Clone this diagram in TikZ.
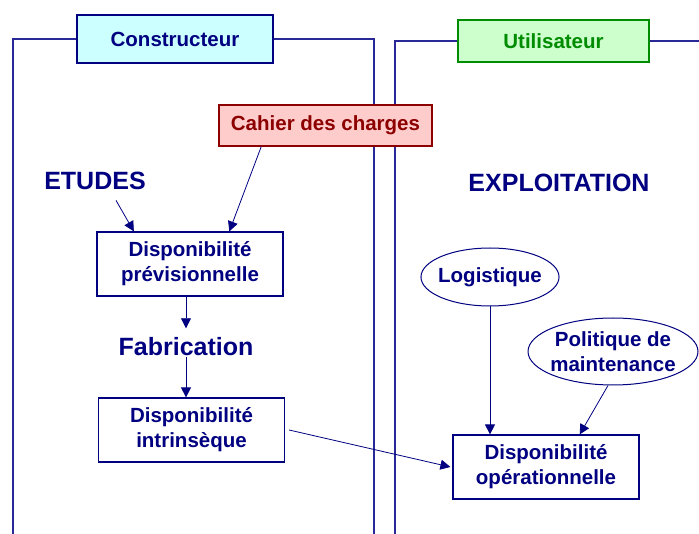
\documentclass[tikz,border=0pt]{standalone}
\usepackage{fontspec}
\setmainfont{Liberation Sans}
\usetikzlibrary{arrows.meta,shapes,positioning,calc}

\definecolor{marine}{RGB}{0,0,128}
\definecolor{cadrebleu}{RGB}{40,40,150}
\definecolor{cyanclair}{RGB}{204,255,255}
\definecolor{vertclair}{RGB}{204,255,204}
\definecolor{vertfonce}{RGB}{0,140,0}
\definecolor{roseclair}{RGB}{255,204,204}
\definecolor{rougefonce}{RGB}{140,0,0}

\begin{document}
\begin{tikzpicture}[x=1pt,y=-1pt,
		txt/.style={font=\bfseries\fontsize{20.5}{25}\selectfont,text=marine,align=center},
		big/.style={font=\bfseries\fontsize{25}{29}\selectfont,text=marine},
		boite/.style={txt,draw=marine,line width=1.2pt,minimum width=186,minimum height=64,inner sep=0pt},
		bulle/.style={txt,ellipse,draw=marine,line width=1pt,inner xsep=-3pt,inner ysep=0pt},
		cadre/.style={draw=cadrebleu,line width=1.3pt},
		fleche/.style={draw=marine,line width=0.8pt,-{Triangle[length=10pt,width=10pt]}}]
		\useasboundingbox (0,0) rectangle (699,534);
		% en-tetes des deux colonnes
		\node[txt,draw=marine,line width=1.2pt,fill=cyanclair,minimum width=196,minimum height=48] (cons) at (175,39) {Constructeur};
		\node[txt,text=vertfonce,draw=vertfonce,line width=1.2pt,fill=vertclair,minimum width=191,minimum height=42] (util) at (553.5,41) {Utilisateur};
		\draw[cadre] (cons.west) -- (13,39) -- (13,534);
		\draw[cadre] (cons.east) -- (374,39) -- (374,534);
		\draw[cadre] (util.west) -- (395,41) -- (395,534);
		\draw[cadre] (util.east) -- (699,41);
		\node[txt,text=rougefonce,draw=rougefonce,line width=1.2pt,fill=roseclair,minimum width=213,minimum height=41] (cdc) at (325.5,125.5) {Cahier des charges};
		
		% colonne constructeur
		\node[big] (etudes) at (95,181) {ETUDES};
		\node[boite] (prev) at (190,264) {Disponibilité\\prévisionnelle};
		\node[big] (fab) at (186,347) {Fabrication};
		\node[boite] (intr) at (191.5,430) {Disponibilité\\intrinsèque};
		\draw[fleche] ([xshift=21pt,yshift=-7pt]etudes.south) -- ($(prev.north west)!0.2!(prev.north east)$);
		\draw[fleche] ($(cdc.south west)!0.2!(cdc.south east)$) -- ($(prev.north west)!0.71!(prev.north east)$);
		\draw[fleche] (prev.south -| fab.north) -- ([yshift=6pt]fab.north);
		\draw[fleche] ([yshift=3pt]fab.south) -- (fab.south |- intr.north);
		
		% colonne utilisateur
		\node[big] (exploit) at (559,183) {EXPLOITATION};
		\node[bulle,minimum width=138,minimum height=58] (logi) at (490,277) {Logistique};
		\node[bulle,minimum width=170,minimum height=67] (poli) at (613,351.5) {Politique de\\maintenance};
		\node[boite] (oper) at (546,467) {Disponibilité\\opérationnelle};
		\draw[fleche] (logi.south) -- (logi.south |- oper.north);
		\draw[fleche] ([xshift=-5pt]poli.south) -- ($(oper.north west)!0.68!(oper.north east)$);
		\draw[fleche] ([xshift=4pt]intr.east) -- ([xshift=-2pt]oper.west);
		
	\end{tikzpicture}
\end{document}
